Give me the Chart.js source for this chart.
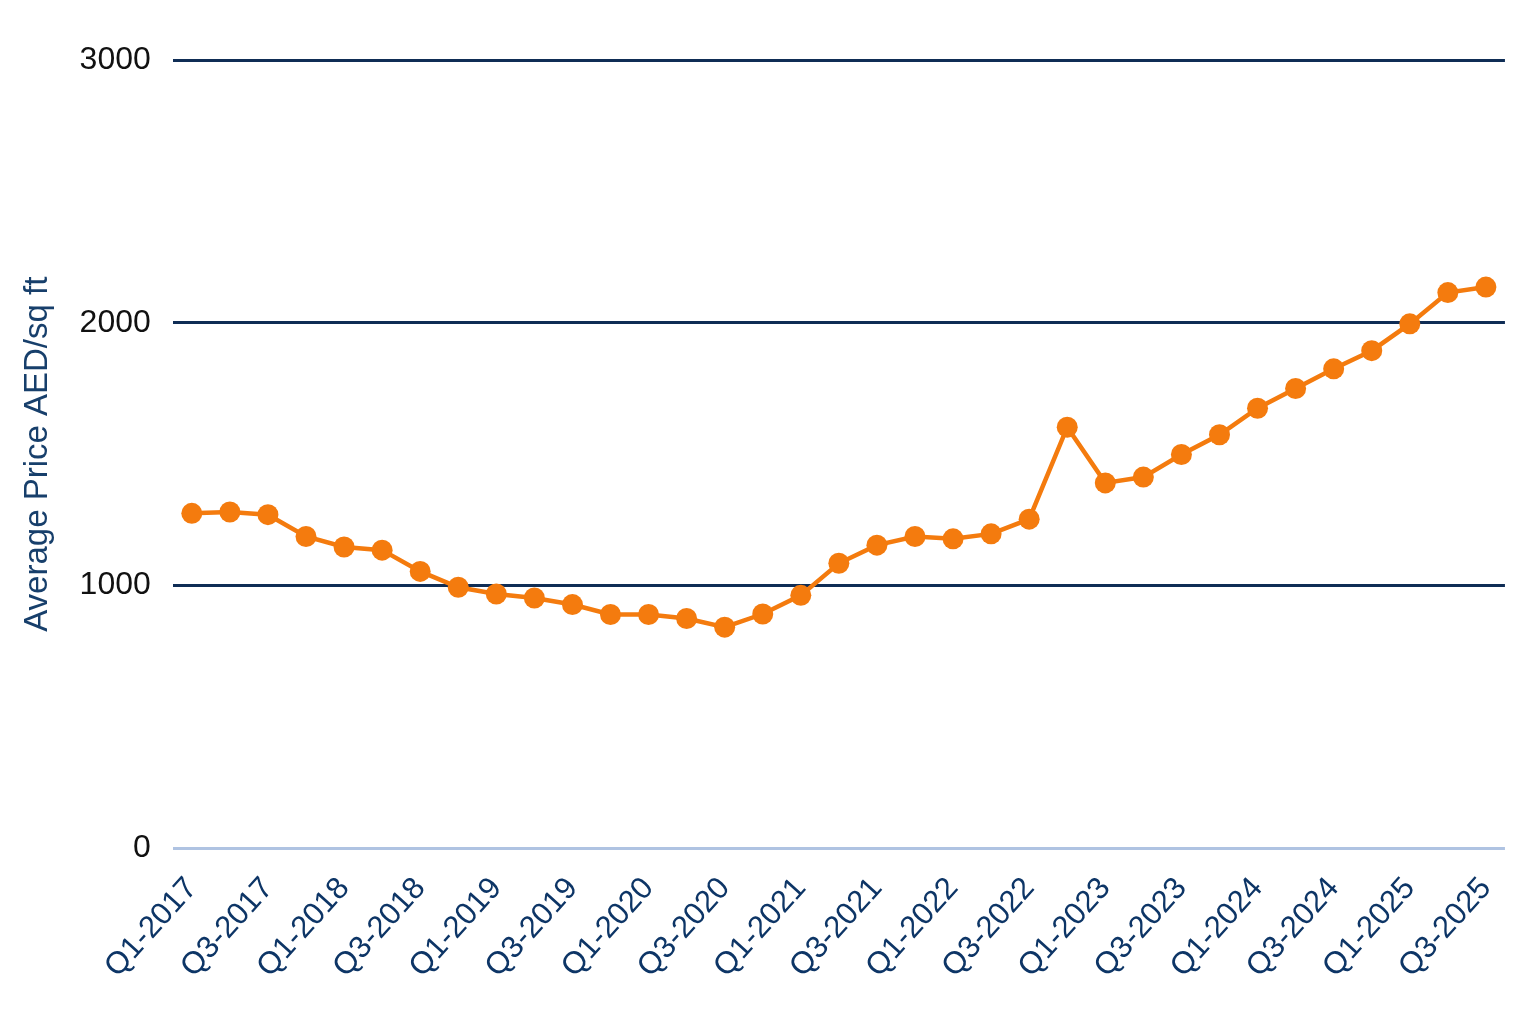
<!DOCTYPE html>
<html>
<head>
<meta charset="utf-8">
<script src="https://cdn.jsdelivr.net/npm/chart.js@4"></script>
<style>
  html, body { margin: 0; padding: 0; background: #ffffff; }
  #wrap { width: 1536px; height: 1024px; position: relative; }
</style>
</head>
<body>
<div id="wrap"><canvas id="c" width="1536" height="1024"></canvas></div>
<script>
const quarters = [
  'Q1-2017','Q2-2017','Q3-2017','Q4-2017',
  'Q1-2018','Q2-2018','Q3-2018','Q4-2018',
  'Q1-2019','Q2-2019','Q3-2019','Q4-2019',
  'Q1-2020','Q2-2020','Q3-2020','Q4-2020',
  'Q1-2021','Q2-2021','Q3-2021','Q4-2021',
  'Q1-2022','Q2-2022','Q3-2022','Q4-2022',
  'Q1-2023','Q2-2023','Q3-2023','Q4-2023',
  'Q1-2024','Q2-2024','Q3-2024','Q4-2024',
  'Q1-2025','Q2-2025','Q3-2025'
];
const avgPrice = [
  1275, 1280, 1270, 1187,
  1147, 1135, 1054, 994,
  968, 953, 928, 890,
  890, 875, 842, 892,
  963, 1085, 1154, 1187,
  1178, 1197, 1253, 1603,
  1391, 1413, 1499, 1574,
  1675, 1750, 1825, 1894,
  1996, 2115, 2136
];
const yTicks = [0, 1000, 2000, 3000];
const yTitle = 'Average Price AED/sq ft';

const orange = '#F47B0E';
const navy = '#0F2D55';

new Chart(document.getElementById('c'), {
  type: 'line',
  data: {
    labels: quarters,
    datasets: [{
      data: avgPrice,
      borderColor: orange,
      backgroundColor: orange,
      borderWidth: 4.5,
      pointRadius: 10.5,
      pointHoverRadius: 10.5,
      pointBackgroundColor: orange,
      pointBorderColor: orange,
      pointBorderWidth: 0,
      tension: 0,
      fill: false
    }]
  },
  options: {
    responsive: false,
    animation: false,
    devicePixelRatio: 1,
    layout: { padding: { top: 60, right: 31, bottom: 17, left: 0 } },
    plugins: { legend: { display: false }, tooltip: { enabled: false } },
    scales: {
      x: {
        type: 'category',
        offset: true,
        grid: { display: false, drawTicks: false },
        border: { display: false },
        ticks: {
          autoSkip: false,
          minRotation: 48,
          maxRotation: 48,
          padding: 22,
          color: '#0D3566',
          font: { family: 'Liberation Sans', size: 31 },
          callback: function(v, i) { return i % 2 === 0 ? quarters[i] : ''; }
        }
      },
      y: {
        min: 0,
        max: 3000,
        afterBuildTicks: function(s) { s.ticks = yTicks.map(v => ({ value: v })); },
        grid: {
          drawTicks: false,
          lineWidth: 3,
          color: function(ctx) { return ctx.tick && ctx.tick.value === 0 ? '#AFC3E2' : navy; }
        },
        border: { display: false },
        ticks: {
          padding: 22,
          color: '#111111',
          font: { family: 'Liberation Sans', size: 32 },
          callback: function(v) { return String(v); }
        },
        title: {
          display: true,
          text: yTitle,
          color: '#173F6B',
          font: { family: 'Liberation Sans', size: 33 },
          padding: { top: 18, bottom: 0 }
        }
      }
    }
  }
});
</script>
</body>
</html>
